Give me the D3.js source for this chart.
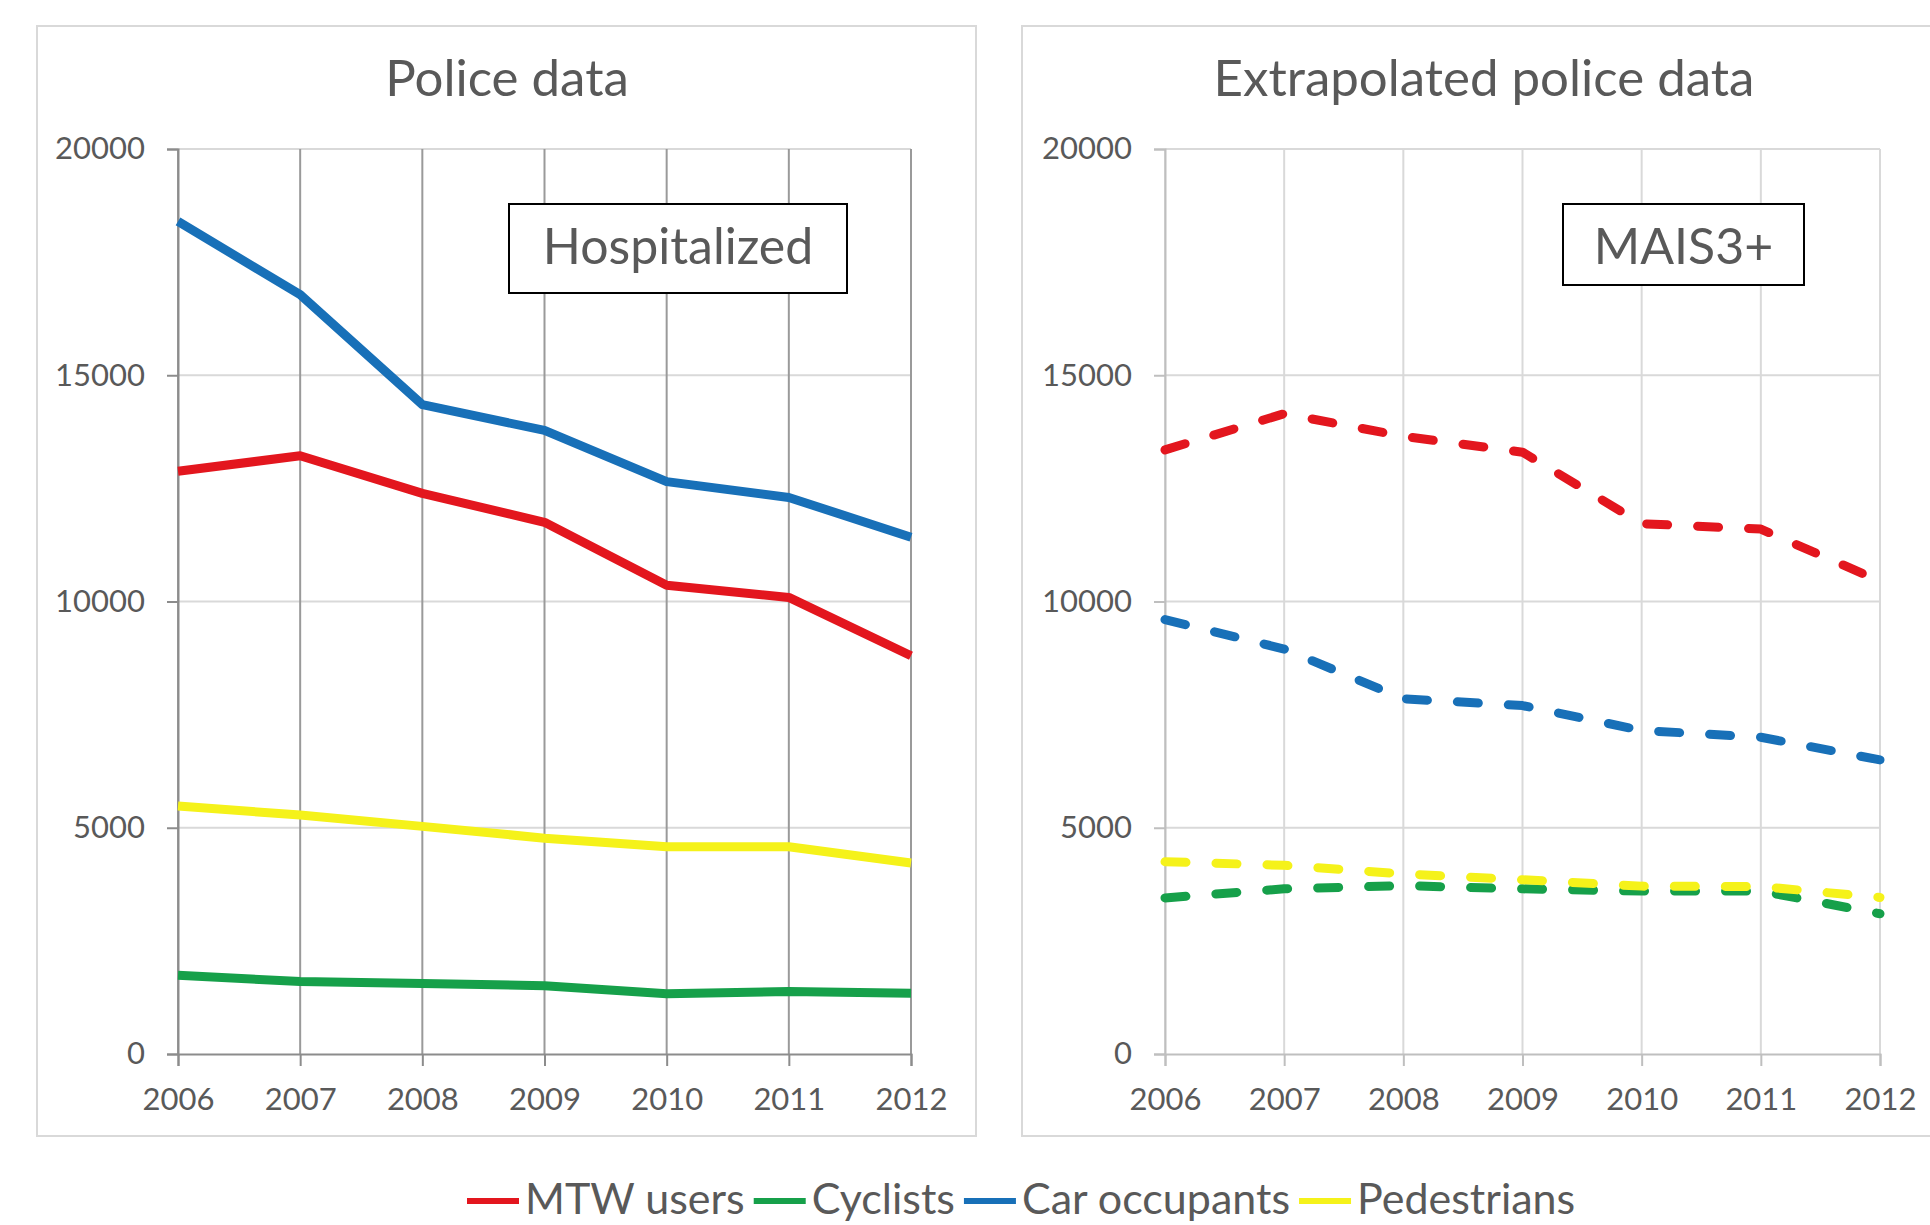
<!DOCTYPE html>
<html>
<head>
<meta charset="utf-8">
<script src="https://cdn.jsdelivr.net/npm/d3@7"></script>
<style>
  body { margin: 0; background: #fff; overflow: hidden; }
  text { font-family: Lato, "Open Sans", sans-serif; fill: #595959; }
</style>
</head>
<body>
<svg id="chart" width="1930" height="1225"></svg>
<script>
// data
const years = [2006, 2007, 2008, 2009, 2010, 2011, 2012];
const yTicks = [0, 5000, 10000, 15000, 20000];

const seriesNames = ["MTW users", "Cyclists", "Car occupants", "Pedestrians"];
const seriesColors = ["#e3161e", "#16a04a", "#1870b8", "#f5f21a"];

// Police data (hospitalized)
const policeMTW = [12880, 13220, 12390, 11750, 10360, 10090, 8800];
const policeCyclists = [1740, 1600, 1560, 1510, 1330, 1380, 1340];
const policeCar = [18400, 16780, 14350, 13780, 12650, 12300, 11420];
const policePed = [5480, 5280, 5030, 4770, 4580, 4580, 4220];

// Extrapolated police data (MAIS3+)
const extraMTW = [13350, 14150, 13650, 13300, 11720, 11600, 10450];
const extraCyclists = [3450, 3650, 3720, 3650, 3600, 3600, 3100];
const extraCar = [9600, 8950, 7850, 7700, 7150, 7000, 6500];
const extraPed = [4250, 4170, 3980, 3850, 3710, 3700, 3460];

const svg = d3.select("#chart");

function drawPanel(opt) {
  const g = svg.append("g");

  // panel frame
  g.append("rect")
    .attr("x", opt.box[0]).attr("y", opt.box[1])
    .attr("width", opt.box[2]).attr("height", opt.box[3])
    .attr("fill", "#fff").attr("stroke", "#d9d9d9").attr("stroke-width", 2);

  const x = d3.scalePoint().domain(years).range(opt.xRange);
  const y = d3.scaleLinear().domain([0, 20000]).range([1054, 149]);

  // horizontal grid
  g.selectAll(".hgrid").data(yTicks.filter(d => d > 0)).enter()
    .append("line")
    .attr("x1", opt.xRange[0]).attr("x2", opt.xRange[1])
    .attr("y1", d => y(d)).attr("y2", d => y(d))
    .attr("stroke", "#d9d9d9").attr("stroke-width", 2);

  // vertical grid
  g.selectAll(".vgrid").data(years).enter()
    .append("line")
    .attr("x1", d => x(d)).attr("x2", d => x(d))
    .attr("y1", y(20000)).attr("y2", y(0))
    .attr("stroke", opt.vgrid).attr("stroke-width", 2);

  // y axis
  const yAxis = g.append("g")
    .attr("transform", `translate(${opt.xRange[0]},0)`)
    .call(d3.axisLeft(y).tickValues(yTicks).tickSize(11).tickPadding(22).tickFormat(d3.format("d")));
  yAxis.select(".domain").attr("stroke", opt.axis).attr("stroke-width", 2);
  yAxis.selectAll(".tick line").attr("stroke", opt.axis).attr("stroke-width", 2);
  yAxis.selectAll(".tick text")
    .style("font-family", "Lato, sans-serif").style("font-size", "31px").attr("fill", "#595959");

  // x axis
  const xAxis = g.append("g")
    .attr("transform", `translate(0,${y(0)})`)
    .call(d3.axisBottom(x).tickSize(12).tickPadding(22));
  xAxis.select(".domain").attr("stroke", opt.axis).attr("stroke-width", 2);
  xAxis.selectAll(".tick line").attr("stroke", opt.axis).attr("stroke-width", 2);
  xAxis.selectAll(".tick text")
    .style("font-family", "Lato, sans-serif").style("font-size", "31px").attr("fill", "#595959");

  // title
  g.append("text")
    .attr("x", opt.titleX).attr("y", 96)
    .attr("text-anchor", "middle")
    .style("font-size", "51px")
    .text(opt.title);

  // label box
  const lab = g.append("g");
  lab.append("rect")
    .attr("x", opt.label[0]).attr("y", 204)
    .attr("width", opt.label[1]).attr("height", opt.label[2])
    .attr("fill", "#fff").attr("stroke", "#000").attr("stroke-width", 2);
  lab.append("text")
    .attr("x", opt.label[0] + opt.label[1] / 2).attr("y", 264)
    .attr("text-anchor", "middle")
    .style("font-size", "50px")
    .text(opt.labelText);

  // lines
  const line = d3.line().x((d, i) => x(years[i])).y(d => y(d));
  opt.series.forEach((vals, k) => {
    g.append("path")
      .datum(vals)
      .attr("d", line)
      .attr("fill", "none")
      .attr("stroke", seriesColors[k])
      .attr("stroke-width", 9)
      .attr("stroke-linejoin", "round")
      .attr("stroke-linecap", opt.dashed ? "round" : "butt")
      .attr("stroke-dasharray", opt.dashed ? "21,30" : null);
  });
}

drawPanel({
  box: [37, 26, 939, 1110],
  xRange: [178, 911],
  title: "Police data",
  titleX: 507,
  label: [509, 338, 89],
  labelText: "Hospitalized",
  vgrid: "#9a9a9a",
  axis: "#8c8c8c",
  dashed: false,
  series: [policeMTW, policeCyclists, policeCar, policePed]
});

drawPanel({
  box: [1022, 26, 930, 1110],
  xRange: [1165, 1880],
  title: "Extrapolated police data",
  titleX: 1484,
  label: [1563, 241, 81],
  labelText: "MAIS3+",
  vgrid: "#d9d9d9",
  axis: "#bfbfbf",
  dashed: true,
  series: [extraMTW, extraCyclists, extraCar, extraPed]
});

// legend
const legend = svg.append("g").attr("transform", "translate(467,0)");
let lx = 0;
seriesNames.forEach((name, i) => {
  legend.append("line")
    .attr("x1", lx).attr("x2", lx + 52)
    .attr("y1", 1201).attr("y2", 1201)
    .attr("stroke", seriesColors[i]).attr("stroke-width", 6);
  const t = legend.append("text")
    .attr("x", lx + 58).attr("y", 1214)
    .style("font-size", "43px")
    .text(name);
  lx += 58 + t.node().getComputedTextLength() + 9;
});
</script>
</body>
</html>
